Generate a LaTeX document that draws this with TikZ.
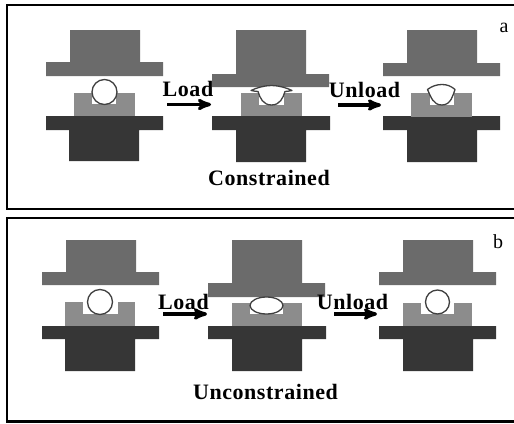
\documentclass[tikz,border=0pt]{standalone}
\usepackage{fontspec}
\setmainfont{Liberation Serif}
\newfontfamily\spacedfont[LetterSpace=2.5]{Liberation Serif}
\usetikzlibrary{arrows}
\usetikzlibrary{positioning}

\definecolor{punchgray}{HTML}{6B6B6B}
\definecolor{basegray}{HTML}{363636}
\definecolor{blockgray}{HTML}{8C8C8C}
\definecolor{ballgray}{HTML}{404040}

\tikzset{
  frame/.style={draw=black,line width=2.2pt},
  punch/.style={fill=punchgray},
  base/.style={fill=basegray},
  block/.style={fill=blockgray},
  slot/.style={fill=white},
  ball/.style={draw=ballgray,fill=white,line width=1.3pt},
  stepname/.style={inner sep=0pt,anchor=base,font=\fontsize{22}{22}\spacedfont\bfseries},
  panelname/.style={inner sep=0pt,anchor=base,font=\fontsize{20}{20}\selectfont},
  stage/.style={draw,line width=3.2pt,-stealth'}
}

\begin{document}
\begin{tikzpicture}[x=1pt,y=-1pt]

  \useasboundingbox (0,0) rectangle (514,423);

  % panel a
  \draw [frame] (514,5) -- (7,5) -- (7,209) -- (514,209);

  \fill [punch] (70,30) rectangle (140,62) (46,62) rectangle (163,76);
  \fill [base] (46,116) rectangle (163,130) (69,130) rectangle (139,161);
  \fill [block] (74,93) rectangle (135,116);
  \fill [slot] (92,93) rectangle (116,104);
  \draw [ball] (104.5,92) circle (12.5);

  \fill [punch] (236,30) rectangle (306,74) (212,74) rectangle (329,87);
  \fill [base] (212,116) rectangle (330,130) (236,130) rectangle (306,162);
  \fill [block] (241,93) rectangle (302,116);
  \fill [slot] (259,93) rectangle (284,105);
  \draw [ball,line join=round] (251,90.5) .. controls (256,88) and (264,85.5) .. (271.5,85.5)
    .. controls (279,85.5) and (287,88) .. (292,90.5)
    .. controls (289,91.5) and (287,91) .. (285,91.5)
    .. controls (283,98) and (280,105) .. (271.5,105)
    .. controls (263,105) and (260,98) .. (258,91.5)
    .. controls (256,91) and (254,91.5) .. (251,90.5) -- cycle;

  \fill [punch] (407,30) rectangle (477,63) (383,63) rectangle (500,76);
  \fill [base] (383,116) rectangle (500,130) (407,130) rectangle (477,162);
  \fill [block] (411,93) rectangle (472,117);
  \fill [slot] (430,93) rectangle (454,105);
  \draw [ball,line join=round] (427.5,89.5) .. controls (432,86) and (437,84.5) .. (442,84.5)
    .. controls (447,84.5) and (451,86) .. (455,89.5)
    .. controls (453,95) and (451,105) .. (442,105)
    .. controls (433,105) and (431,97) .. (427.5,89.5) -- cycle;

  \node [stepname] (Aload) at (188,96.5) {Load};
  \node [stepname] (Aunload) at (364.5,97.5) {Unload};
  \node [stepname] (Aname) at (269,185) {Constrained};
  \node [panelname] (Alab) at (504,32) {a};

  \coordinate (Aload_from) at (167,104.5);
  \coordinate (Aload_to) at (211,104.5);
  \coordinate (Aunload_from) at (338,105);
  \coordinate (Aunload_to) at (381,105);
  \path [stage] (Aload_from) -- (Aload_to);
  \path [stage] (Aunload_from) -- (Aunload_to);

  % panel b
  \draw [frame] (514,218) -- (7,218) -- (7,421.5) -- (514,421.5);

  \fill [punch] (66,240) rectangle (136,272) (42,272) rectangle (159,285);
  \fill [base] (42,326) rectangle (159,339) (65,339) rectangle (135,371);
  \fill [block] (65,302) rectangle (135,326);
  \fill [slot] (83,302) rectangle (118,314);
  \draw [ball] (100,302) circle (12.5);

  \fill [punch] (232,240) rectangle (302,283) (208,283) rectangle (325,297);
  \fill [base] (208,326) rectangle (326,339) (232,339) rectangle (302,371);
  \fill [block] (232,303) rectangle (302,326);
  \fill [slot] (250,303) rectangle (283,314);
  \draw [ball] (266.5,305.5) ellipse (16.5 and 8.5);

  \fill [punch] (403,240) rectangle (473,272) (379,272) rectangle (496,285);
  \fill [base] (379,326) rectangle (496,339) (403,339) rectangle (473,371);
  \fill [block] (403,303) rectangle (472,326);
  \fill [slot] (421,303) rectangle (454,314);
  \draw [ball] (437.5,302) circle (12);

  \node [stepname] (Bload) at (183.5,309) {Load};
  \node [stepname] (Bunload) at (352.5,309) {Unload};
  \node [stepname] (Bname) at (265.5,399) {Unconstrained};
  \node [panelname] (Blab) at (498,248) {b};

  \coordinate (Bload_from) at (163,314);
  \coordinate (Bload_to) at (207,314);
  \coordinate (Bunload_from) at (334,314);
  \coordinate (Bunload_to) at (377,314);
  \path [stage] (Bload_from) -- (Bload_to);
  \path [stage] (Bunload_from) -- (Bunload_to);

\end{tikzpicture}
\end{document}
